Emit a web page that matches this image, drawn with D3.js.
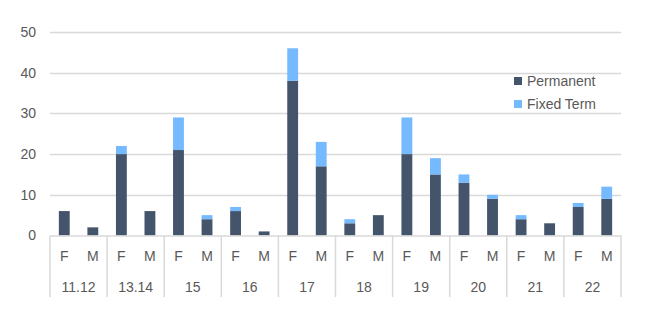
<!DOCTYPE html>
<html><head><meta charset="utf-8">
<script src="https://cdn.jsdelivr.net/npm/d3@7"></script>
<style>body{margin:0;background:#fff}svg{display:block}text{font-family:"Liberation Sans",Arial,sans-serif;fill:#595959}</style>
</head><body><svg id="c" width="646" height="328"></svg>
<script>
const groups = ["11.12","13.14","15","16","17","18","19","20","21","22"];
const genders = ["F","M"];
const permanent = [6,2, 20,6, 21,4, 6,1, 38,17, 3,5, 20,15, 13,9, 4,3, 7,9];
const fixedTerm = [0,0, 2,0, 8,1, 1,0, 8,6, 1,0, 9,4, 2,1, 1,0, 1,3];
const yTicks = [0,10,20,30,40,50];
const seriesNames = ["Permanent","Fixed Term"];
const colors = ["#44546A","#75B9FF"];

const svg = d3.select("#c");
const L = 50, R = 621, T = 32, B = 235.5;
const cats = [];
groups.forEach((g,i)=>genders.forEach((s,j)=>cats.push({g,s,idx:i*2+j})));
const x = d3.scaleBand().domain(cats.map(d=>d.idx)).range([L,R]).paddingInner(0.62).paddingOuter(0.31);
const xc = d3.scaleBand().domain(cats.map(d=>d.idx)).range([L,R]);
const xg = d3.scaleBand().domain(groups).range([L,R]);
const y = d3.scaleLinear().domain([0,50]).range([B,T]);

// gridlines
svg.append("g").selectAll("line").data(yTicks.filter(t=>t>0)).join("line")
  .attr("x1",L).attr("x2",R).attr("y1",d=>Math.round(y(d))+0.5).attr("y2",d=>Math.round(y(d))+0.5)
  .attr("stroke","#d9d9d9").attr("stroke-width",1.5);
// y labels
const ya = d3.axisLeft(y).tickValues(yTicks).tickSize(0).tickPadding(14);
const yg = svg.append("g").attr("transform",`translate(${L},0)`).call(ya);
yg.select(".domain").remove();
yg.selectAll("text").attr("font-size",14).style("fill","#595959").style("font-family","Liberation Sans, Arial, sans-serif");

// stacked data
const data = cats.map((c,i)=>({idx:c.idx, Permanent:permanent[i], "Fixed Term":fixedTerm[i]}));
const stack = d3.stack().keys(seriesNames)(data);
svg.append("g").selectAll("g").data(stack).join("g").attr("fill",(d,i)=>colors[i])
  .selectAll("rect").data(d=>d).join("rect")
  .attr("x",d=>x(d.data.idx)).attr("width",x.bandwidth())
  .attr("y",d=>y(d[1])).attr("height",d=>y(d[0])-y(d[1]));

// category axis
const ax = svg.append("g");
ax.append("line").attr("x1",L).attr("x2",R).attr("y1",B+0.5).attr("y2",B+0.5).attr("stroke","#d9d9d9").attr("stroke-width",1.5);
const seps = groups.map(g=>xg(g)).concat([R]);
ax.selectAll("line.sep").data(seps).join("line").attr("class","sep")
  .attr("x1",d=>d).attr("x2",d=>d).attr("y1",B).attr("y2",297)
  .attr("stroke","#d9d9d9").attr("stroke-width",1.5);
ax.selectAll("text.s").data(cats).join("text").attr("class","s")
  .attr("x",d=>xc(d.idx)+xc.bandwidth()/2).attr("y",261).attr("text-anchor","middle")
  .attr("font-size",14).text(d=>d.s);
ax.selectAll("text.g").data(groups).join("text").attr("class","g")
  .attr("x",d=>xg(d)+xg.bandwidth()/2).attr("y",292).attr("text-anchor","middle")
  .attr("font-size",14).text(d=>d);

// legend
const lg = svg.append("g").attr("transform","translate(514,77)");
seriesNames.forEach((n,i)=>{
  const r = lg.append("g").attr("transform",`translate(0,${i*23})`);
  r.append("rect").attr("width",8).attr("height",8).attr("fill",colors[i]);
  r.append("text").attr("x",13).attr("y",8.5).attr("font-size",14).text(n);
});
</script></body></html>
